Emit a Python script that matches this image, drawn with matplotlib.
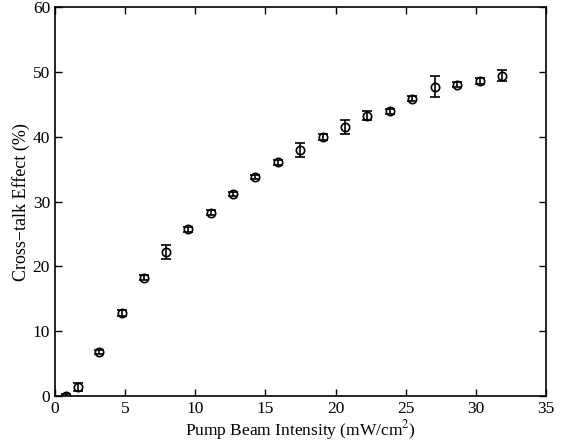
import matplotlib
matplotlib.use('Agg')
import matplotlib.pyplot as plt

intensity = [0.78, 1.62, 3.16, 4.77, 6.33, 7.93, 9.51, 11.13, 12.72, 14.29, 15.9,
             17.5, 19.09, 20.65, 22.25, 23.87, 25.46, 27.07, 28.67, 30.26, 31.87]
crosstalk = [0.0, 1.43, 6.74, 12.76, 18.26, 22.17, 25.7, 28.3, 31.2, 33.75, 36.06,
             37.96, 40.0, 41.56, 43.26, 43.9, 45.9, 47.74, 48.0, 48.56, 49.4]
err = [0.25, 0.6, 0.3, 0.45, 0.4, 1.1, 0.35, 0.35, 0.3, 0.3, 0.35,
       1.08, 0.5, 1.08, 0.7, 0.4, 0.4, 1.62, 0.4, 0.45, 0.85]

plt.rcParams['font.family'] = ['Liberation Serif', 'DejaVu Serif']
plt.rcParams['mathtext.fontset'] = 'stix'

dpi = 100
fig = plt.figure(figsize=(580 / dpi, 445 / dpi), dpi=dpi)
ax = fig.add_axes([0.0948, 0.110, 0.8466, 0.874])

ax.errorbar(intensity, crosstalk, yerr=err, fmt='o', mfc='none', mec='black',
            color='black', ms=6, mew=1.2, elinewidth=1.2, capsize=3.5, capthick=1.2)

ax.set_xlim(0, 35)
ax.set_ylim(0, 60)
ax.set_xticks(range(0, 36, 5))
ax.set_yticks(range(0, 61, 10))
ax.tick_params(direction='in', top=True, right=True, labelsize=12.5, length=5, width=1)
for s in ax.spines.values():
    s.set_linewidth(1.2)

ax.set_xlabel('Pump Beam Intensity (mW/cm$^2$)', fontsize=12.5, labelpad=1)
ax.set_ylabel('Cross\u2212talk Effect (%)', fontsize=13, labelpad=2)

fig.savefig('out.png', dpi=dpi)
